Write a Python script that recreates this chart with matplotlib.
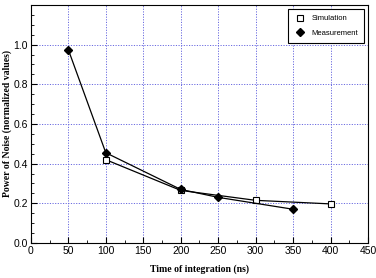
import matplotlib
matplotlib.use("Agg")
import matplotlib.pyplot as plt
from matplotlib.ticker import MultipleLocator

# data
sim_x = [100, 200, 300, 400]
sim_y = [0.42, 0.265, 0.215, 0.197]
meas_x = [50, 100, 200, 250, 350]
meas_y = [0.975, 0.455, 0.27, 0.23, 0.17]

plt.rcParams["font.family"] = ["Liberation Sans", "DejaVu Sans"]

fig = plt.figure(figsize=(3.76, 2.78), dpi=100)
ax = fig.add_axes([0.082, 0.126, 0.897, 0.856])

ax.plot(sim_x, sim_y, color="black", lw=0.9, marker="s", ms=5,
        mfc="white", mec="black", mew=0.8, label="Simulation")
ax.plot(meas_x, meas_y, color="black", lw=0.9, marker="D", ms=3.8,
        mfc="black", mec="black", label="Measurement")

ax.set_xlim(0, 450)
ax.set_ylim(0, 1.2)
ax.set_xticks(range(0, 451, 50))
ax.set_yticks([0.0, 0.2, 0.4, 0.6, 0.8, 1.0])
ax.set_yticklabels(["0.0", "0.2", "0.4", "0.6", "0.8", "1.0"])
ax.xaxis.set_minor_locator(MultipleLocator(25))
ax.yaxis.set_minor_locator(MultipleLocator(0.05))
ax.tick_params(which="both", direction="in", top=False, right=False)
ax.tick_params(which="major", length=4, labelsize=7.5, pad=2)
ax.tick_params(which="minor", length=2)

ax.grid(True, which="major", color="#6a6ae0", linestyle=(0, (1.2, 1.5)), lw=0.7)
ax.set_axisbelow(True)

ax.set_xlabel("Time of integration (ns)", family="Liberation Serif",
              fontweight="bold", fontsize=7, labelpad=6)
ax.set_ylabel("Power of Noise (normalized values)", family="Liberation Serif",
              fontweight="bold", fontsize=7, labelpad=1)

leg = ax.legend(loc="upper right", prop={"size": 5.5},
                fancybox=False, edgecolor="black", framealpha=1,
                borderpad=0.8, handlelength=1.5, labelspacing=0.9)
leg.get_frame().set_linewidth(0.8)
for h in leg.get_lines():
    h.set_linestyle("none")

fig.savefig("out.png", dpi=100)
